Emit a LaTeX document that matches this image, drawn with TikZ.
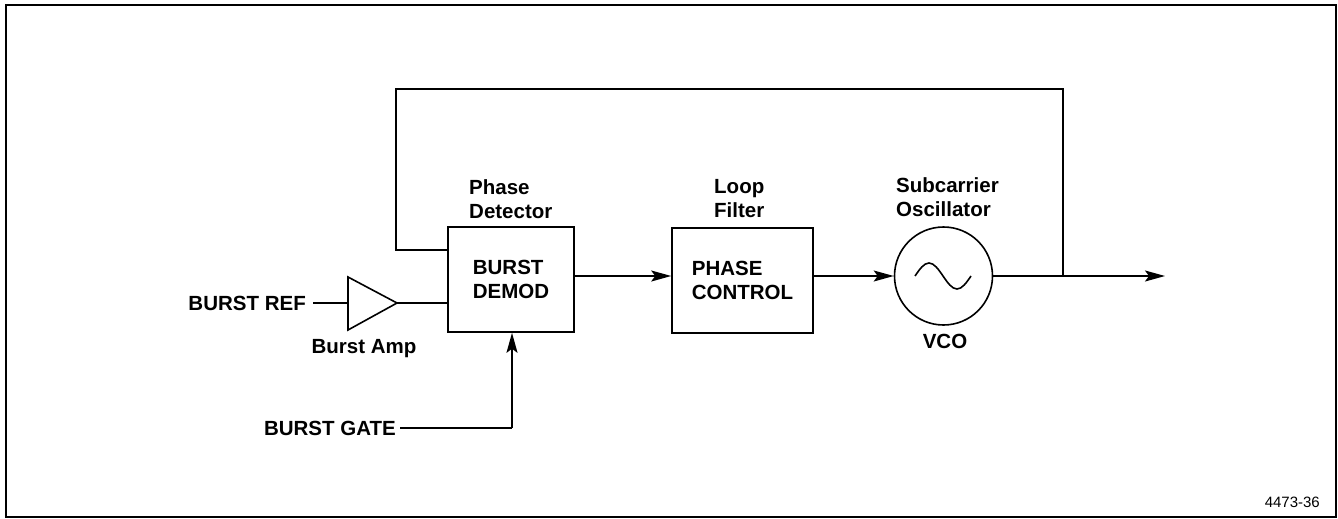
\documentclass[tikz,border=0pt]{standalone}
\usepackage{fontspec}
\setmainfont{Liberation Sans}
\usetikzlibrary{arrows.meta,calc}
\begin{document}
\begin{tikzpicture}[x=1pt,y=-1pt,
  lbl/.style={font=\fontsize{20.5}{24}\selectfont\bfseries,inner sep=0pt,align=left},
  blk/.style={draw,line width=1.6pt,inner sep=0pt,font=\fontsize{20.5}{24}\selectfont\bfseries,align=left},
  wire/.style={line width=1.6pt},
  arr/.style={wire,-{Stealth[length=20pt,width=11pt,inset=4pt]}}]
\useasboundingbox (0,0) rectangle (1338,519);
\draw[line width=2.4pt] (6,5) rectangle (1336,517);

% blocks
\node[blk,minimum width=126pt,minimum height=105pt] (demod) at (511,279.5) {BURST\\DEMOD};
\node[blk,minimum width=141pt,minimum height=105pt] (pc) at (742.5,280.5) {PHASE\\CONTROL};
\node[draw,circle,line width=1.6pt,minimum size=98pt,inner sep=0pt] (vco) at (943.5,276) {};
\draw[line width=1.6pt] (915,276) sin (929,263) cos (943,276) sin (957,289) cos (971,276);

% amplifier
\coordinate (ampin) at (348,303);
\coordinate (ampout) at (397,303);
\draw[line width=1.6pt,line join=miter] (348,277) -- (ampout) -- (348,330) -- cycle;

% labels
\node[lbl,anchor=north west] (pdlbl) at (469,179) {Phase\\Detector};
\node[lbl,anchor=north west] (lflbl) at (714,179) {Loop\\Filter};
\node[lbl,anchor=north west] (sclbl) at (896,177) {Subcarrier\\Oscillator};
\node[lbl] (vcolbl) at (945,341) {VCO};
\node[lbl,anchor=base] (amplbl) at (364,353) {Burst Amp};
\node[lbl,anchor=east] (ref) at (306,303) {BURST REF};
\node[lbl,anchor=east] (gate) at (396,428) {BURST GATE};
\node[font=\fontsize{15}{18}\selectfont,inner sep=0pt,anchor=east] (fig) at (1320,502) {4473-36};

% connectors
\coordinate (junc) at (1063,276);
\coordinate (out) at (1165,276);
\coordinate (fbR) at (1063,89);
\coordinate (fbL) at (396,89);
\coordinate (fbin) at (396,250);
\coordinate (gatecorner) at (512,428);

\draw[wire] ([xshift=7pt]ref.east) -- (ampin);
\draw[wire] (ampout) -- (ampout -| demod.west);
\draw[arr] (demod.east |- 0,276) -- (pc.west |- 0,276);
\draw[arr] (pc.east |- vco.west) -- (vco.west);
\draw[wire] (vco.east) -- (junc);
\draw[arr] (junc) -- (out);
\draw[wire,line join=miter] (junc) -- (fbR) -- (fbL) -- (fbin) -- (fbin -| demod.west);
\draw[wire] ([xshift=4pt]gate.east) -- (gatecorner);
\draw[arr] (gatecorner) -- (gatecorner |- demod.south);
\end{tikzpicture}
\end{document}
